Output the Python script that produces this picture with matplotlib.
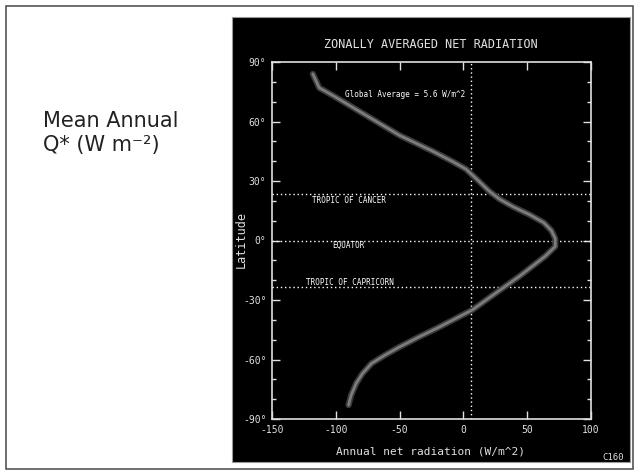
import matplotlib
matplotlib.use('Agg')
import matplotlib.pyplot as plt
from matplotlib.patches import Rectangle
from matplotlib.ticker import MultipleLocator

# zonal mean net radiation
latitude = [84, 77, 73, 68, 63, 58, 53, 49, 45, 40, 36, 30, 25, 21, 17, 13, 9, 5, 1,
            -3, -8, -13, -18, -23, -29, -35, -40, -44, -49, -54, -58, -62, -67, -72, -78, -83]
net_rad = [-118, -113, -102, -89, -76, -63, -50, -37, -24, -9, 2, 12, 20, 28, 39, 52, 63, 69, 72,
           72, 64, 54, 44, 33, 20, 7, -8, -20, -36, -51, -62, -72, -79, -84, -88, -90]
global_avg = 5.6
ref_lats = [23.5, 0, -23.5]
ref_names = ['TROPIC OF CANCER', 'EQUATOR', 'TROPIC OF CAPRICORN']
x_ticks = [-150, -100, -50, 0, 50, 100]
y_ticks = [-90, -60, -30, 0, 30, 60, 90]

mono = 'DejaVu Sans Mono'
W, H = 636, 472

fig = plt.figure(figsize=(6.36, 4.72), dpi=100)
fig.patch.set_facecolor('white')

# slide frame
fig.add_artist(Rectangle((6 / W, 1 - 469 / H), (633 - 6) / W, (469 - 6) / H,
                         transform=fig.transFigure, fill=False, edgecolor='#555555', lw=1.2,
                         zorder=-2))
# black picture box
fig.add_artist(Rectangle((232 / W, 1 - 462 / H), (630 - 232) / W, (462 - 17) / H,
                         transform=fig.transFigure, facecolor='black', edgecolor='#999999', lw=0.8,
                         zorder=-1))

fig.text(43 / W, 1 - 133 / H, 'Mean Annual\nQ* (W m⁻²)', fontsize=15, color='#222222',
         va='center', ha='left', linespacing=1.2, family='DejaVu Sans')

ax = fig.add_axes([272 / W, 1 - 419 / H, (591 - 272) / W, (419 - 62) / H])
ax.set_zorder(3)
ax.set_facecolor('black')
for s in ax.spines.values():
    s.set_color('#e0e0e0')
    s.set_linewidth(1.2)

# dotted reference lines
for lat in ref_lats:
    ax.axhline(lat, color='white', lw=1, ls=(0, (1, 2)))
ax.axvline(global_avg, color='white', lw=1, ls=(0, (1, 2)))

# curve (thick smudgy grey)
ax.plot(net_rad, latitude, color='#3a3a3a', lw=4.5, solid_capstyle='round', solid_joinstyle='round')
ax.plot(net_rad, latitude, color='#7c7c7c', lw=2, solid_capstyle='round', solid_joinstyle='round')

ax.set_xlim(-150, 100)
ax.set_ylim(-90, 90)
ax.set_xticks(x_ticks)
ax.set_xticklabels([str(v) for v in x_ticks])
ax.set_yticks(y_ticks)
ax.set_yticklabels([f'{v}°' for v in y_ticks])
ax.yaxis.set_minor_locator(MultipleLocator(10))
ax.tick_params(which='both', direction='in', top=True, right=True, colors='#e0e0e0',
               labelcolor='#e0e0e0', labelsize=7, pad=4)
ax.tick_params(which='major', length=6, width=1)
ax.tick_params(which='minor', length=3, width=1)
for lbl in ax.get_xticklabels() + ax.get_yticklabels():
    lbl.set_family(mono)

ax.text(-93, 73.4, 'Global Average = 5.6 W/m^2', color='white', fontsize=5.5,
        family=mono, va='center', ha='left')
ax.text(-119, 20.4, ref_names[0], color='white', fontsize=5.5, family=mono, va='center')
ax.text(-103, -2.5, ref_names[1], color='white', fontsize=5.5, family=mono, va='center')
ax.text(-123, -21.3, ref_names[2], color='white', fontsize=5.5, family=mono, va='center')

fig.text(431 / W, 1 - 45 / H, 'ZONALLY AVERAGED NET RADIATION', color='#e0e0e0',
         fontsize=8.5, family=mono, ha='center', va='center')
fig.text(431 / W, 1 - 452 / H, 'Annual net radiation (W/m^2)', color='#e0e0e0',
         fontsize=8, family=mono, ha='center', va='center')
fig.text(241 / W, 1 - 240 / H, 'Latitude', color='#e0e0e0', fontsize=8.5, family=mono,
         ha='center', va='center', rotation=90)
fig.text(613 / W, 1 - 457 / H, 'C160', color='#e0e0e0', fontsize=6.5, family=mono,
         ha='center', va='center')

fig.savefig('out.png', dpi=100, facecolor='white')
